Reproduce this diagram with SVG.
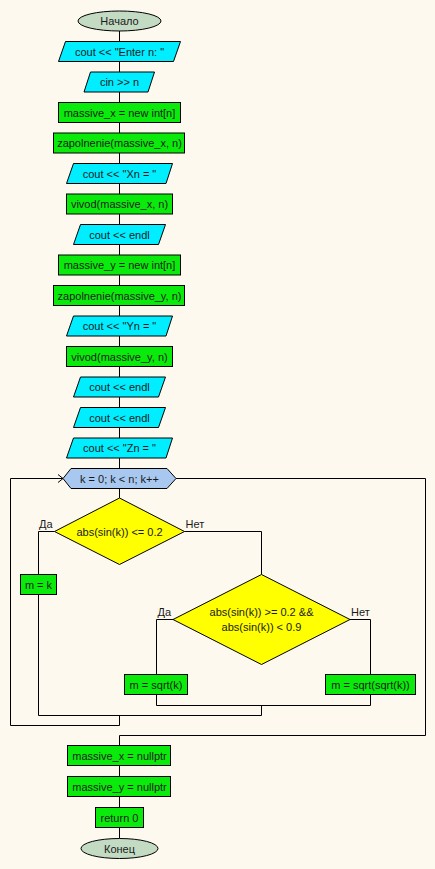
<svg xmlns="http://www.w3.org/2000/svg" width="435" height="869" viewBox="0 0 435 869">
<style>
text{font-family:"Liberation Sans",Arial,sans-serif;font-size:11px;fill:#1a1a1a;text-anchor:middle}
.lbl{text-anchor:start}
.term{fill:#c3dbc3;stroke:#000;stroke-width:1}
.io{fill:#00eeff;stroke:#000;stroke-width:1}
.proc{fill:#0beb0b;stroke:#000;stroke-width:1}
.dec{fill:#ffff00;stroke:#000;stroke-width:1}
.loop{fill:#a8c8f0;stroke:#000;stroke-width:1}
.conn{fill:none;stroke:#000;stroke-width:1}
</style>
<rect x="0" y="0" width="435" height="869" fill="#fdf9ef"/>
<g id="connectors">
<path class="conn" d="M119.5 31 V468"/>
<path class="conn" d="M119.5 488 V498"/>
<path class="conn" d="M54.5 531.5 H38.5 V574.5"/>
<path class="conn" d="M38.5 594.5 V715.5 H261.5"/>
<path class="conn" d="M184.5 531.5 H261.5 V574.5"/>
<path class="conn" d="M173 619.5 H156.5 V674.5"/>
<path class="conn" d="M350 619.5 H370.5 V674.5"/>
<path class="conn" d="M156.5 694.5 V705.5 H370.5 V694.5"/>
<path class="conn" d="M261.5 705.5 V715.5"/>
<path class="conn" d="M119.5 715.5 V725.5 H10.5 V478.5 H63"/>
<path class="conn" d="M58 474.5 L63 478.5 L58 482.5"/>
<path class="conn" d="M176 478.5 H425.5 V735.5 H119.5 V745.5"/>
<path class="conn" d="M119.5 765.5 V776.5"/>
<path class="conn" d="M119.5 796.5 V807.5"/>
<path class="conn" d="M119.5 827.5 V838.5"/>
</g>
<g id="start"><ellipse class="term" cx="119.5" cy="21" rx="41.5" ry="10"/><text x="119.5" y="25">Начало</text></g>
<g id="n1"><polygon class="io" points="65.5,41.5 180.5,41.5 173.5,61.5 58.5,61.5"/><text x="119.5" y="55.5">cout &lt;&lt; "Enter n: "</text></g>
<g id="n2"><polygon class="io" points="90.5,72 154.5,72 148,92 84,92"/><text x="119.5" y="86">cin &gt;&gt; n</text></g>
<g id="n3"><rect class="proc" x="58.5" y="102.5" width="122" height="20"/><text x="119.5" y="116.5">massive_x = new int[n]</text></g>
<g id="n4"><rect class="proc" x="53.5" y="133" width="131" height="20"/><text x="119.5" y="147">zapolnenie(massive_x, n)</text></g>
<g id="n5"><polygon class="io" points="73.5,163.5 172.5,163.5 166,183.5 66.5,183.5"/><text x="119.5" y="177.5">cout &lt;&lt; "Xn = "</text></g>
<g id="n6"><rect class="proc" x="66.5" y="194" width="106" height="20"/><text x="119.5" y="208">vivod(massive_x, n)</text></g>
<g id="n7"><polygon class="io" points="80.5,224.5 165.5,224.5 158.5,244.5 73.5,244.5"/><text x="119.5" y="238.5">cout &lt;&lt; endl</text></g>
<g id="n8"><rect class="proc" x="58.5" y="255" width="122" height="20"/><text x="119.5" y="269">massive_y = new int[n]</text></g>
<g id="n9"><rect class="proc" x="53.5" y="285.5" width="131" height="20"/><text x="119.5" y="299.5">zapolnenie(massive_y, n)</text></g>
<g id="n10"><polygon class="io" points="73.5,316 172.5,316 166,336 66.5,336"/><text x="119.5" y="330">cout &lt;&lt; "Yn = "</text></g>
<g id="n11"><rect class="proc" x="66.5" y="346.5" width="106" height="20"/><text x="119.5" y="360.5">vivod(massive_y, n)</text></g>
<g id="n12"><polygon class="io" points="80.5,377 165.5,377 158.5,397 73.5,397"/><text x="119.5" y="391">cout &lt;&lt; endl</text></g>
<g id="n13"><polygon class="io" points="80.5,407.5 165.5,407.5 158.5,427.5 73.5,427.5"/><text x="119.5" y="421.5">cout &lt;&lt; endl</text></g>
<g id="n14"><polygon class="io" points="73.5,438 172.5,438 166,458 66.5,458"/><text x="119.5" y="452">cout &lt;&lt; "Zn = "</text></g>
<g id="loop"><polygon class="loop" points="63,478.5 71,468.5 167,468.5 176,478.5 167,488.5 71,488.5"/><text x="119.5" y="482.5">k = 0; k &lt; n; k++</text></g>
<g id="d1"><polygon class="dec" points="119.5,498 184.5,531.5 119.5,564.5 54.5,531.5"/><text x="119.5" y="535.5">abs(sin(k)) &lt;= 0.2</text>
<text class="lbl" x="39" y="528">Да</text><text class="lbl" x="185.5" y="528">Нет</text></g>
<g id="n15"><rect class="proc" x="20.5" y="574.5" width="36" height="20"/><text x="38.5" y="588.5">m = k</text></g>
<g id="d2"><polygon class="dec" points="261.5,574.5 350,619.5 261.5,664.5 173,619.5"/><text x="261.5" y="615.5">abs(sin(k)) &gt;= 0.2 &amp;&amp;</text><text x="261.5" y="631">abs(sin(k)) &lt; 0.9</text>
<text class="lbl" x="157.5" y="616">Да</text><text class="lbl" x="351" y="616">Нет</text></g>
<g id="n16"><rect class="proc" x="124.5" y="674.5" width="63" height="20"/><text x="156" y="688.5">m = sqrt(k)</text></g>
<g id="n17"><rect class="proc" x="325.5" y="674.5" width="90" height="20"/><text x="370.5" y="688.5">m = sqrt(sqrt(k))</text></g>
<g id="n18"><rect class="proc" x="67.5" y="745.5" width="103" height="20"/><text x="119.5" y="759.5">massive_x = nullptr</text></g>
<g id="n19"><rect class="proc" x="67.5" y="776.5" width="103" height="20"/><text x="119.5" y="790.5">massive_y = nullptr</text></g>
<g id="n20"><rect class="proc" x="95.5" y="807.5" width="48" height="20"/><text x="119.5" y="821.5">return 0</text></g>
<g id="end"><ellipse class="term" cx="119.5" cy="848.5" rx="38.5" ry="10"/><text x="119.5" y="852.5">Конец</text></g>
</svg>
